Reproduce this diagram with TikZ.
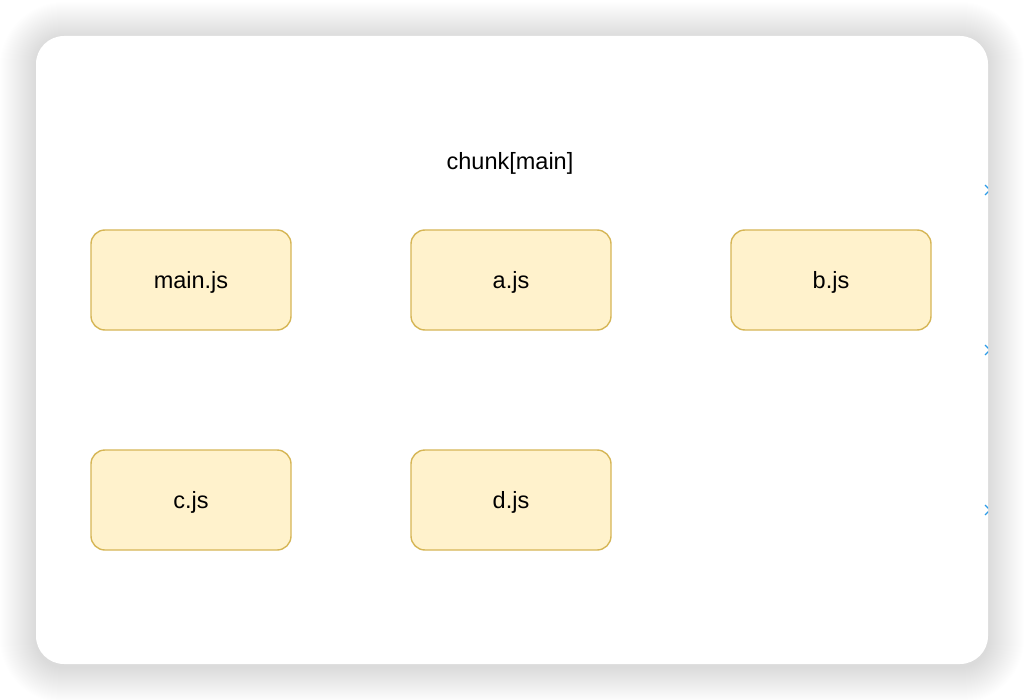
\documentclass[tikz,border=0pt]{standalone}
\usepackage{fontspec}
\setmainfont{Liberation Sans}
\definecolor{boxfill}{HTML}{FFF2CC}
\definecolor{boxline}{HTML}{D6B656}
\definecolor{markblue}{HTML}{2B9BE8}
\begin{document}
\begin{tikzpicture}[x=1pt,y=-1pt,
  filebox/.style={draw=boxline, fill=boxfill, line width=1.4pt, rounded corners=14pt,
    minimum width=200pt, minimum height=100pt, inner sep=0pt,
    text height=17pt, text depth=1pt, font=\fontsize{23.5}{28}\selectfont},
  titletext/.style={font=\fontsize{23.5}{28}\selectfont, inner sep=0pt}]
\useasboundingbox (0,0) rectangle (1024,700);
\fill[white] (0,0) rectangle (1024,700);
\foreach \i in {1,...,36}{
  \fill[black, opacity=0.003, rounded corners={28pt+\i pt}]
    (36-\i, 38-\i) rectangle (988+\i, 667+\i);
}
\node[fill=white, rounded corners=28pt, minimum width=952pt, minimum height=628pt, inner sep=0pt]
  (card) at (512,350) {};
\node[titletext] (title) at (510,163) {chunk[main]};
\node[filebox] (main) at (191,280) {main.js};
\node[filebox] (a) at (511,280) {a.js};
\node[filebox] (b) at (831,280) {b.js};
\node[filebox] (c) at (191,500) {c.js};
\node[filebox] (d) at (511,500) {d.js};
\begin{scope}
\clip (card.north west) rectangle (card.south east);
\foreach \yy/\nm in {190/m1,350/m2,510/m3}{
  \coordinate (\nm) at (990,\yy);
  \draw[markblue, line width=1.2pt] ([shift={(-5,-5)}]\nm) -- (\nm) -- ([shift={(-5,5)}]\nm);
}
\end{scope}
\end{tikzpicture}
\end{document}
